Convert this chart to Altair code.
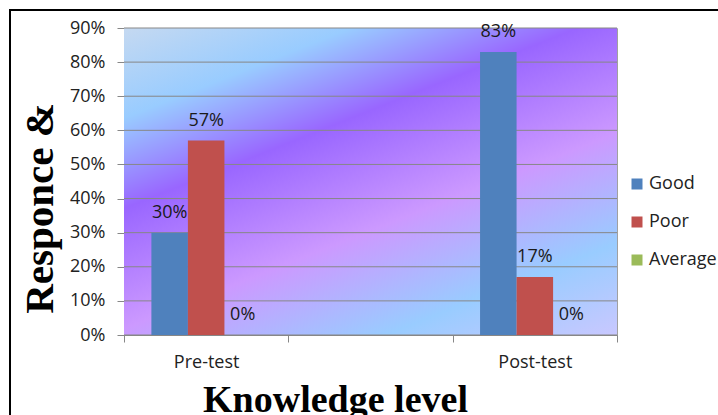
import altair as alt
import pandas as pd

# ---- data ----
categories = ["Pre-test", "Post-test"]
axis_slots = ["Pre-test", " ", "Post-test"]
series = ["Good", "Poor", "Average"]
good = [0.30, 0.83]
poor = [0.57, 0.17]
average = [0.0, 0.0]
y_ticks = [0.0, 0.1, 0.2, 0.3, 0.4, 0.5, 0.6, 0.7, 0.8, 0.9]
colors = ["#4f81bd", "#c0504d", "#9bbb59"]

rows = []
for i, c in enumerate(categories):
    for s, vals in zip(series, [good, poor, average]):
        rows.append({"category": c, "series": s, "value": vals[i]})
df = pd.DataFrame(rows)
grid_df = pd.DataFrame({"value": y_ticks})
one = pd.DataFrame({"a": [0]})

W, H = 493, 307
FONT = "Open Sans"
FS = 18

gradient = {
    "gradient": "linear",
    "x1": 0, "y1": 0, "x2": 0.74, "y2": 1.16,
    "stops": [
        {"offset": 0.0, "color": "#c5d9f1"},
        {"offset": 0.18, "color": "#99ccff"},
        {"offset": 0.36, "color": "#9966ff"},
        {"offset": 0.60, "color": "#cc99ff"},
        {"offset": 0.82, "color": "#99ccff"},
        {"offset": 1.0, "color": "#c8c8ff"},
    ],
}

bg = alt.Chart(one).mark_rect(fill=gradient, strokeWidth=0).encode(
    x=alt.value(0), x2=alt.value(W), y=alt.value(0), y2=alt.value(H)
)

frame = alt.Chart(one).mark_rect(filled=False, stroke="black", strokeWidth=2).encode(
    x=alt.value(10 - 124), x2=alt.value(900), y=alt.value(10 - 28), y2=alt.value(600)
)

yscale = alt.Scale(domain=[0, 0.9], nice=False, zero=True)
yaxis = alt.Axis(
    title="Responce &", values=y_ticks, format=".0%", grid=False,
    labelFont=FONT, labelFontSize=FS, labelColor="#222222", labelPadding=12,
    tickSize=7, tickColor="#878787", domainColor="#878787",
    titleFont="Liberation Serif", titleFontWeight="bold", titleFontSize=41,
    titleColor="black", titleX=-72, titleY=180, titleBaseline="alphabetic",
    titleAlign="center", titleAngle=270,
)

xscale = alt.Scale(domain=axis_slots, paddingInner=0, paddingOuter=0)
xaxis = alt.Axis(
    title="Knowledge level", tickBand="extent", labelAngle=0,
    labelFont=FONT, labelFontSize=FS, labelColor="#222222", labelPadding=11,
    tickSize=7, tickColor="#878787", domainColor="#878787", grid=False,
    titleFont="Liberation Serif", titleFontWeight="bold", titleFontSize=38,
    titleColor="black", titleX=211, titleY=76, titleBaseline="alphabetic",
    titleAlign="center",
)
xoff = alt.XOffset("series:N", scale=alt.Scale(domain=series, paddingInner=0, paddingOuter=0.75))

grid = alt.Chart(grid_df).mark_rule(color="#878787", strokeWidth=1).encode(
    y=alt.Y("value:Q", scale=yscale, axis=yaxis),
    x=alt.value(0), x2=alt.value(W),
)

bars = alt.Chart(df).mark_bar().encode(
    x=alt.X("category:N", scale=xscale, axis=xaxis),
    xOffset=xoff,
    y=alt.Y("value:Q", scale=yscale, axis=yaxis),
    color=alt.Color(
        "series:N", scale=alt.Scale(domain=series, range=colors),
        legend=alt.Legend(
            title=None, orient="none", legendX=504, legendY=147,
            symbolType="square", symbolSize=121, symbolStrokeWidth=0,
            labelFont=FONT, labelFontSize=FS, labelColor="#222222",
            rowPadding=20, labelOffset=3, padding=0,
        ),
    ),
)

labels = alt.Chart(df).mark_text(
    font=FONT, fontSize=FS, color="#1a1a1a", baseline="alphabetic", dy=-15
).encode(
    x=alt.X("category:N", scale=xscale, axis=xaxis),
    xOffset=xoff,
    y=alt.Y("value:Q", scale=yscale, axis=yaxis),
    text=alt.Text("value:Q", format=".0%"),
)

chart = alt.layer(bg, grid, bars, labels, frame).properties(
    width=W, height=H,
    autosize=alt.AutoSizeParams(type="none"),
    padding={"left": 124, "top": 28, "right": 101, "bottom": 80},
    background="white",
).configure_view(stroke="#a0a0a0", strokeWidth=1)

chart.save("out.html", embed_options={"renderer": "svg", "actions": False})
